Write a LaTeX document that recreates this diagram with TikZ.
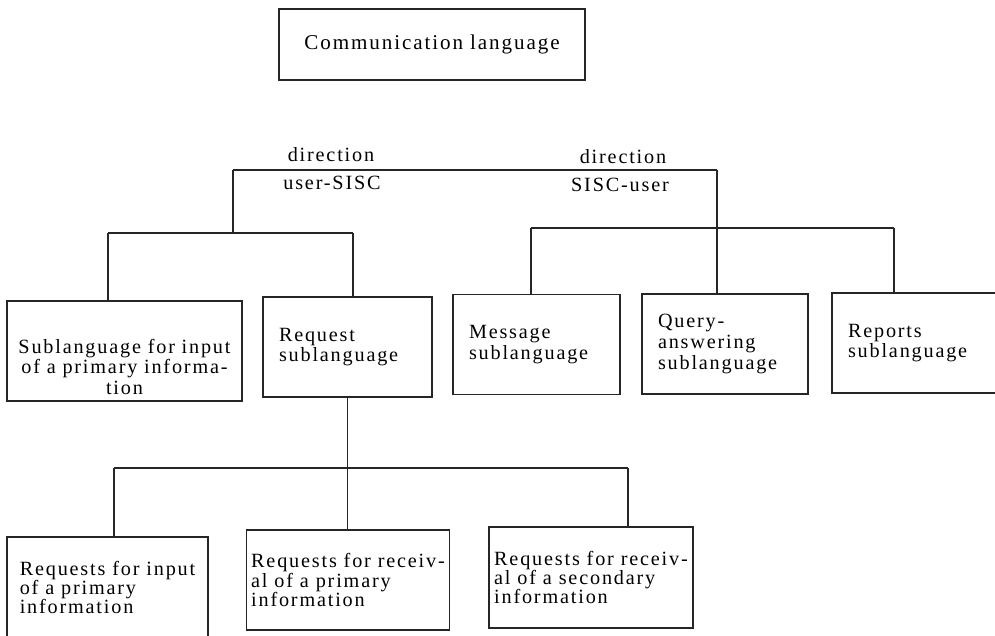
\documentclass[tikz,border=0pt]{standalone}
\usepackage{fontspec}
\setmainfont{Liberation Serif}[LetterSpace=9]
\tikzset{
  box/.style={draw=black!85, line width=0.6pt, minimum height=2cm, inner xsep=0.32cm, align=left, font=\fontsize{11.5}{11.8}\selectfont},
  lowbox/.style={box, minimum height=2.02cm, inner xsep=0.1cm, font=\fontsize{11.5}{11}\selectfont},
  link/.style={draw=black!85, line width=0.7pt},
  tag/.style={inner sep=0pt, font=\fontsize{11.5}{11.5}\selectfont}
}
\begin{document}
\begin{tikzpicture}
\clip (0,0) rectangle (19.9,12.7);
\node[box, minimum width=6.12cm, minimum height=1.42cm, align=center, font=\fontsize{12}{12}\selectfont] (comm) at (8.64,11.81) {Communication language};
\node[tag] (dir l) at (6.62,9.6) {direction};
\node[tag] (usr l) at (6.64,9.05) {user-SISC};
\node[tag] (dir r) at (12.46,9.56) {direction};
\node[tag] (usr r) at (12.40,9.0) {SISC-user};
\node[box, text width=4.58cm, inner xsep=0.06cm, inner ysep=1pt, align=center] (sub) at (2.49,5.68) {\rule{0pt}{26pt}Sublanguage for input\\of a primary informa-\\tion};
\node[box, text width=2.74cm] (req) at (6.95,5.76) {Request\\sublanguage};
\node[box, text width=2.70cm] (msg) at (10.73,5.81) {Message\\sublanguage};
\node[box, text width=2.68cm] (query) at (14.50,5.82) {Query-\\answering\\sublanguage};
\node[box, text width=2.82cm] (reports) at (18.37,5.84) {Reports\\sublanguage};
\node[lowbox, minimum width=4.02cm] (rin) at (2.15,0.95) {Requests for input\\of a primary\\information};
\node[lowbox, minimum width=4.04cm, minimum height=2cm] (rprim) at (6.96,1.1) {Requests for receiv-\\al of a primary\\information};
\node[lowbox, minimum width=4.08cm] (rsec) at (11.82,1.15) {Requests for receiv-\\al of a secondary\\information};
\coordinate (top l) at (4.66,9.3);
\coordinate (top r) at (14.34,9.3);
\coordinate (l fork) at (4.66,8.04);
\coordinate (l l) at (2.16,8.04);
\coordinate (l r) at (7.06,8.04);
\coordinate (r l) at (10.62,8.14);
\coordinate (r r) at (17.88,8.14);
\coordinate (b l) at (2.28,3.34);
\coordinate (b r) at (12.56,3.34);
\draw[link] (top l) -- (top r);
\draw[link] (top l) -- (l fork);
\draw[link] (top r) -- (top r |- query.north);
\draw[link] (l l) -- (l r);
\draw[link] (l l) -- (l l |- sub.north);
\draw[link] (l r) -- (l r |- req.north);
\draw[link] (r l) -- (r r);
\draw[link] (r l) -- (r l |- msg.north);
\draw[link] (r r) -- (r r |- reports.north);
\draw[link] (req.south) -- (req.south |- rprim.north);
\draw[link] (b l) -- (b r);
\draw[link] (b l) -- (b l |- rin.north);
\draw[link] (b r) -- (b r |- rsec.north);
\end{tikzpicture}
\end{document}
